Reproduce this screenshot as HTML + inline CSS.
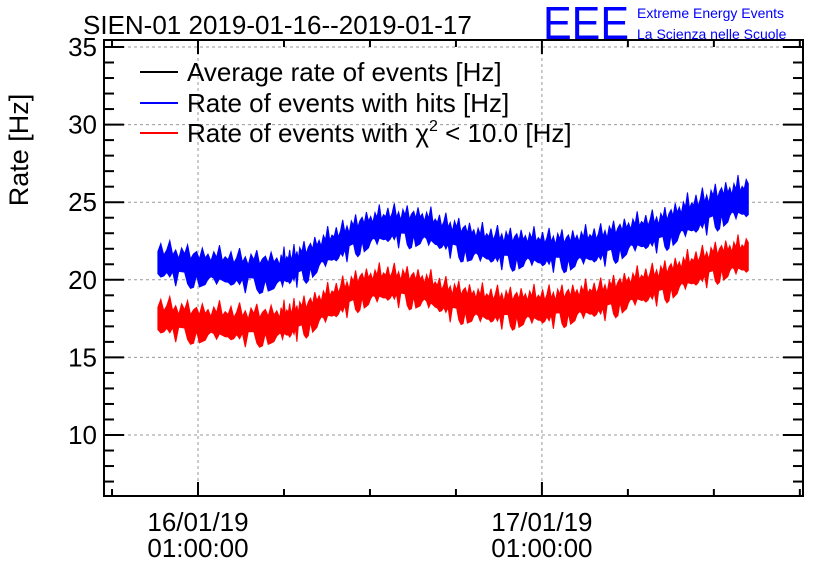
<!DOCTYPE html>
<html><head><meta charset="utf-8"><style>
body{margin:0;background:#fff}
svg{display:block;font-family:"Liberation Sans",sans-serif}
</style></head><body>
<svg id="chart" width="836" height="572">
<text x="83" y="34" font-size="26">SIEN-01 2019-01-16--2019-01-17</text>
<text x="543" y="39" font-size="46" fill="#0000ff" textLength="86" lengthAdjust="spacingAndGlyphs">EEE</text>
<text x="637" y="18" font-size="14" fill="#0000ff">Extreme Energy Events</text>
<text x="637" y="39" font-size="14" fill="#0000ff">La Scienza nelle Scuole</text>
<text transform="translate(28,150) rotate(-90)" font-size="27" text-anchor="middle">Rate [Hz]</text>
<g id="grid"></g><g id="series"></g><g id="axes"></g>
<g>
<line x1="140" y1="72" x2="178" y2="72" stroke="#000" stroke-width="2"/>
<text x="187" y="81" font-size="26">Average rate of events [Hz]</text>
<line x1="140" y1="103" x2="178" y2="103" stroke="#0000ff" stroke-width="2"/>
<text x="187" y="112" font-size="26">Rate of events with hits [Hz]</text>
<line x1="140" y1="133" x2="178" y2="133" stroke="#ff0000" stroke-width="2"/>
<text x="187" y="142" font-size="26">Rate of events with χ<tspan font-size="16" dy="-11">2</tspan><tspan dy="11"> &lt; 10.0 [Hz]</tspan></text>
</g>
</svg>
<script>
// hours relative to 16/01/19 01:00:00
const times = [-2.8,0.1,2.9,5.7,7.1,9.2,11.3,13.4,15.5,17.6,19.7,21.8,23.9,26.0,28.1,30.2,32.3,34.3,36.4,38.4];
const blueValues = [21.2,20.8,20.6,20.5,21.0,22.0,23.0,23.5,23.4,22.8,22.2,22.0,21.9,21.9,22.2,22.8,23.2,24.0,24.8,25.2];
const redValues = [17.6,17.2,17.1,17.1,17.5,18.4,19.4,19.7,19.4,18.7,18.3,18.2,18.2,18.4,18.7,19.3,19.8,20.5,21.2,21.5];
const blueSpread = [0.9,0.9,0.9,0.9,0.9,0.9,0.9,0.9,0.9,0.9,0.9,0.9,0.9,0.9,0.9,0.9,0.9,1.0,1.0,1.0];
const redSpread = [0.9,0.9,0.9,0.9,0.9,0.9,0.9,0.9,0.9,0.9,0.9,0.9,0.9,0.9,0.9,0.9,0.9,0.9,0.9,0.9];
// hand-typed relative jitter of the noise envelope
const jitterUp = [0.7,1.3,0.5,0.9,1.6,0.6,1.0,0.4,1.2,0.8,1.5,0.5,0.9,1.1,0.6,1.4,0.7,1.0,0.5,1.2,0.8,1.7,0.6,0.9];
const jitterDown = [0.9,0.5,1.4,0.7,1.0,1.6,0.6,1.1,0.5,1.3,0.8,0.6,1.5,0.7,1.0,0.5,1.2,0.9,1.6,0.6,1.1,0.7,1.3,0.8];
const yTicks = [10,15,20,25,30,35];
const xTickHours = [0,24];
const xTickLabels = [["16/01/19","01:00:00"],["17/01/19","01:00:00"]];

const L=104,R=803,T=40,B=496;
const X0=-6.56,X1=42.22,Y0=6.07,Y1=35.45;
const sx=h=>L+(h-X0)/(X1-X0)*(R-L);
const sy=v=>B-(v-Y0)/(Y1-Y0)*(B-T);
const NS="http://www.w3.org/2000/svg";
function mk(tag,attrs,parent){const e=document.createElementNS(NS,tag);for(const k in attrs)e.setAttribute(k,attrs[k]);parent.appendChild(e);return e;}
const grid=document.getElementById('grid'),ser=document.getElementById('series'),ax=document.getElementById('axes');

yTicks.forEach(v=>{
 const g=mk('line',{x1:L,x2:R,y1:sy(v),y2:sy(v),stroke:'#999','stroke-dasharray':'3,3','stroke-width':1},grid);
 
 
 const t=mk('text',{x:L-7,y:sy(v)+9,'font-size':26,'text-anchor':'end'},ax);
 t.textContent=v;
 
 
});
xTickHours.forEach((h,i)=>{
 const g=mk('line',{x1:sx(h),x2:sx(h),y1:T,y2:B,stroke:'#999','stroke-dasharray':'3,3','stroke-width':1},grid);
 
 
 xTickLabels[i].forEach((s,j)=>{
  const t=mk('text',{x:sx(h),y:531+j*26,'font-size':26,'text-anchor':'middle'},ax);
  t.textContent=s;
  
  
 });
});
const f=mk('rect',{x:L,y:T,width:R-L,height:B-T,fill:'none',stroke:'#000','stroke-width':2},ax);


for(let v=7;v<=35;v++){
 const len=v%5===0?20:10;
 mk('line',{x1:L,x2:L+len,y1:sy(v),y2:sy(v),stroke:'#000','stroke-width':2},ax);
 mk('line',{x1:R,x2:R-len,y1:sy(v),y2:sy(v),stroke:'#000','stroke-width':2},ax);
}
for(let h=-6;h<=42;h+=6){
 const len=h%24===0?14:7;
 mk('line',{x1:sx(h),x2:sx(h),y1:B,y2:B-len,stroke:'#000','stroke-width':2},ax);
 mk('line',{x1:sx(h),x2:sx(h),y1:T,y2:T+len,stroke:'#000','stroke-width':2},ax);
}
function band(vals,spr,color,name){
 let up=[],dn=[],c=0;
 for(let i=0;i<times.length-1;i++){
  for(let k=0;k<14;k++){
   const f=k/14,h=times[i]+f*(times[i+1]-times[i]);
   const v=vals[i]+f*(vals[i+1]-vals[i]),s=spr[i]+f*(spr[i+1]-spr[i]);
   up.push(sx(h).toFixed(1)+','+sy(v+s*jitterUp[c%jitterUp.length]).toFixed(1));
   dn.push(sx(h).toFixed(1)+','+sy(v-s*jitterDown[(c*7)%jitterDown.length]).toFixed(1));
   c++;
  }
 }
 const n=times.length-1;
 up.push(sx(times[n]).toFixed(1)+','+sy(vals[n]+spr[n]).toFixed(1));
 dn.push(sx(times[n]).toFixed(1)+','+sy(vals[n]-spr[n]).toFixed(1));
 const p=mk('polygon',{points:up.concat(dn.reverse()).join(' '),fill:color,stroke:color,'stroke-width':1},ser);
 
 
}
band(blueValues,blueSpread,'#0000ff','series-hits');
band(redValues,redSpread,'#ff0000','series-chi2');
</script>
</body></html>
